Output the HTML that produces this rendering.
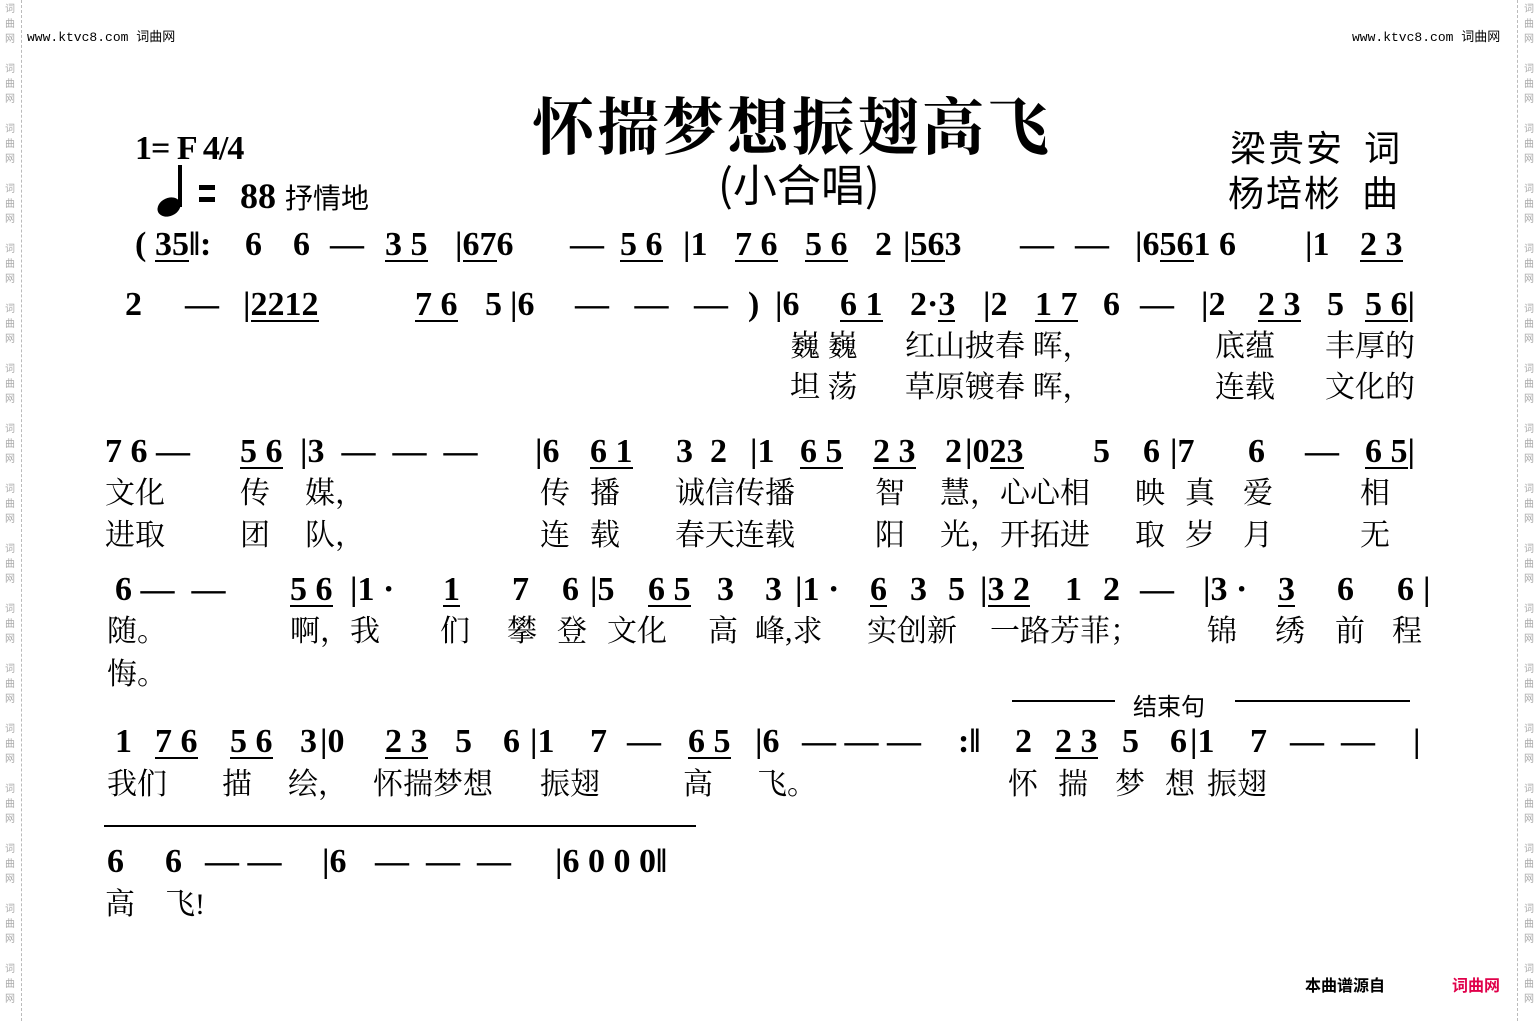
<!DOCTYPE html>
<html><head><meta charset="utf-8"><style>
body{margin:0;width:1539px;height:1021px;background:#fff;position:relative;overflow:hidden;font-family:"Liberation Serif","Noto Serif CJK SC",serif;color:#000}
.s{position:absolute;white-space:pre}
.n{position:absolute;white-space:pre;font:bold 34px "Liberation Serif",serif;line-height:40px}
.l{position:absolute;white-space:pre;font:30px "Liberation Serif","Noto Serif CJK SC",serif;line-height:36px}
.u{border-bottom:2.5px solid #000;line-height:30px;display:inline-block}
.side{position:absolute;width:20px;font:10px "Noto Sans CJK SC",sans-serif;color:#aaa;line-height:15px;text-align:center}
.vl{position:absolute;top:0;height:1021px;border-left:1px dashed #bbb}
</style></head><body>
<div class="vl" style="left:21px"></div><div class="vl" style="left:1517px"></div>
<div class="side" style="left:0;top:0">词<br>曲<br>网<br><br>词<br>曲<br>网<br><br>词<br>曲<br>网<br><br>词<br>曲<br>网<br><br>词<br>曲<br>网<br><br>词<br>曲<br>网<br><br>词<br>曲<br>网<br><br>词<br>曲<br>网<br><br>词<br>曲<br>网<br><br>词<br>曲<br>网<br><br>词<br>曲<br>网<br><br>词<br>曲<br>网<br><br>词<br>曲<br>网<br><br>词<br>曲<br>网<br><br>词<br>曲<br>网<br><br>词<br>曲<br>网<br><br>词<br>曲<br>网</div>
<div class="side" style="left:1519px;top:0">词<br>曲<br>网<br><br>词<br>曲<br>网<br><br>词<br>曲<br>网<br><br>词<br>曲<br>网<br><br>词<br>曲<br>网<br><br>词<br>曲<br>网<br><br>词<br>曲<br>网<br><br>词<br>曲<br>网<br><br>词<br>曲<br>网<br><br>词<br>曲<br>网<br><br>词<br>曲<br>网<br><br>词<br>曲<br>网<br><br>词<br>曲<br>网<br><br>词<br>曲<br>网<br><br>词<br>曲<br>网<br><br>词<br>曲<br>网<br><br>词<br>曲<br>网</div>
<div class="s" style="left:27px;top:26px;font:13px 'Liberation Mono','Noto Sans CJK SC',monospace">www.ktvc8.com 词曲网</div>
<div class="s" style="left:1352px;top:26px;font:13px 'Liberation Mono','Noto Sans CJK SC',monospace">www.ktvc8.com 词曲网</div>
<div class="s" style="left:532px;top:78px;font:bold 62px 'Noto Serif CJK SC',serif;letter-spacing:3px">怀揣梦想振翅高飞</div>
<div class="s" style="left:718px;top:150px;font:44px 'Noto Sans CJK SC',sans-serif">(小合唱)</div>
<div class="s" style="left:135px;top:130px;font:bold 34px 'Liberation Serif',serif;letter-spacing:-1px">1= F 4/4</div>
<svg class="s" style="left:155px;top:165px" width="60" height="55"><ellipse cx="14" cy="42" rx="12" ry="9" fill="#000" transform="rotate(-25 14 42)"/><rect x="23" y="0" width="4" height="42"/><rect x="44" y="20" width="38" height="5"/><rect x="44" y="32" width="38" height="5"/></svg>
<div class="s" style="left:240px;top:175px;font:bold 36px 'Liberation Serif',serif">88 <span style="font:28px 'Noto Sans CJK SC',sans-serif">抒情地</span></div>
<div class="s" style="left:1230px;top:120px;font:36px 'Noto Sans CJK SC',sans-serif;letter-spacing:2px">梁贵安  词</div>
<div class="s" style="left:1228px;top:165px;font:36px 'Noto Sans CJK SC',sans-serif;letter-spacing:2px">杨培彬  曲</div>

<!-- Row1 -->
<div class="n" style="left:135px;top:225px">(</div><div class="n" style="left:155px;top:225px"><span class="u">35</span>‖:</div>
<div class="n" style="left:245px;top:225px">6</div><div class="n" style="left:293px;top:225px">6</div><div class="n" style="left:330px;top:225px">—</div>
<div class="n" style="left:385px;top:225px"><span class="u">3 5</span></div><div class="n" style="left:455px;top:225px">|<span class="u">67</span>6</div>
<div class="n" style="left:570px;top:225px">—</div><div class="n" style="left:620px;top:225px"><span class="u">5 6</span></div>
<div class="n" style="left:683px;top:225px">|1</div><div class="n" style="left:735px;top:225px"><span class="u">7 6</span></div><div class="n" style="left:805px;top:225px"><span class="u">5 6</span></div><div class="n" style="left:875px;top:225px">2</div>
<div class="n" style="left:903px;top:225px">|<span class="u">56</span>3</div><div class="n" style="left:1020px;top:225px">—</div><div class="n" style="left:1075px;top:225px">—</div>
<div class="n" style="left:1135px;top:225px">|6<span class="u">56</span>1 6</div><div class="n" style="left:1305px;top:225px">|1</div><div class="n" style="left:1360px;top:225px"><span class="u">2 3</span></div>

<!-- Row2 -->
<div class="n" style="left:125px;top:285px">2</div><div class="n" style="left:185px;top:285px">—</div>
<div class="n" style="left:243px;top:285px">|<span class="u">22</span><span class="u">12</span></div>
<div class="n" style="left:415px;top:285px"><span class="u">7 6</span></div><div class="n" style="left:485px;top:285px">5</div><div class="n" style="left:510px;top:285px">|6</div>
<div class="n" style="left:575px;top:285px">—   —   —</div><div class="n" style="left:748px;top:285px">)</div>
<div class="n" style="left:775px;top:285px">|6</div><div class="n" style="left:840px;top:285px"><span class="u">6 1</span></div><div class="n" style="left:910px;top:285px">2·<span class="u">3</span></div>
<div class="n" style="left:983px;top:285px">|2</div><div class="n" style="left:1035px;top:285px"><span class="u">1 7</span></div><div class="n" style="left:1103px;top:285px">6</div><div class="n" style="left:1140px;top:285px">—</div>
<div class="n" style="left:1201px;top:285px">|2</div><div class="n" style="left:1258px;top:285px"><span class="u">2 3</span></div><div class="n" style="left:1327px;top:285px">5</div><div class="n" style="left:1365px;top:285px"><span class="u">5 6</span>|</div>
<div class="l" style="left:790px;top:329px">巍 巍</div><div class="l" style="left:905px;top:329px">红山披春 晖，</div><div class="l" style="left:1215px;top:329px">底蕴</div><div class="l" style="left:1325px;top:329px">丰厚的</div>
<div class="l" style="left:790px;top:370px">坦 荡</div><div class="l" style="left:905px;top:370px">草原镀春 晖，</div><div class="l" style="left:1215px;top:370px">连载</div><div class="l" style="left:1325px;top:370px">文化的</div>

<!-- Row3 -->
<div class="n" style="left:105px;top:432px">7 6 —</div><div class="n" style="left:240px;top:432px"><span class="u">5 6</span></div><div class="n" style="left:300px;top:432px">|3  —  —  —</div>
<div class="n" style="left:535px;top:432px">|6</div><div class="n" style="left:590px;top:432px"><span class="u">6 1</span></div><div class="n" style="left:676px;top:432px">3  2</div>
<div class="n" style="left:750px;top:432px">|1</div><div class="n" style="left:800px;top:432px"><span class="u">6 5</span></div><div class="n" style="left:873px;top:432px"><span class="u">2 3</span></div><div class="n" style="left:945px;top:432px">2</div>
<div class="n" style="left:965px;top:432px">|0<span class="u">23</span></div><div class="n" style="left:1093px;top:432px">5</div><div class="n" style="left:1143px;top:432px">6</div>
<div class="n" style="left:1170px;top:432px">|7</div><div class="n" style="left:1248px;top:432px">6</div><div class="n" style="left:1305px;top:432px">—</div><div class="n" style="left:1365px;top:432px"><span class="u">6 5</span>|</div>
<div class="l" style="left:105px;top:476px">文化</div><div class="l" style="left:240px;top:476px">传</div><div class="l" style="left:305px;top:476px">媒，</div><div class="l" style="left:540px;top:476px">传</div><div class="l" style="left:590px;top:476px">播</div><div class="l" style="left:675px;top:476px">诚信传播</div><div class="l" style="left:875px;top:476px">智</div><div class="l" style="left:940px;top:476px">慧，心心相</div><div class="l" style="left:1135px;top:476px">映</div><div class="l" style="left:1185px;top:476px">真</div><div class="l" style="left:1243px;top:476px">爱</div><div class="l" style="left:1360px;top:476px">相</div>
<div class="l" style="left:105px;top:518px">进取</div><div class="l" style="left:240px;top:518px">团</div><div class="l" style="left:305px;top:518px">队，</div><div class="l" style="left:540px;top:518px">连</div><div class="l" style="left:590px;top:518px">载</div><div class="l" style="left:675px;top:518px">春天连载</div><div class="l" style="left:875px;top:518px">阳</div><div class="l" style="left:940px;top:518px">光，开拓进</div><div class="l" style="left:1135px;top:518px">取</div><div class="l" style="left:1185px;top:518px">岁</div><div class="l" style="left:1243px;top:518px">月</div><div class="l" style="left:1360px;top:518px">无</div>

<!-- Row4 -->
<div class="n" style="left:115px;top:570px">6 —  —</div><div class="n" style="left:290px;top:570px"><span class="u">5 6</span></div><div class="n" style="left:350px;top:570px">|1 ·</div><div class="n" style="left:443px;top:570px"><span class="u">1</span></div><div class="n" style="left:512px;top:570px">7</div><div class="n" style="left:562px;top:570px">6</div>
<div class="n" style="left:590px;top:570px">|5</div><div class="n" style="left:648px;top:570px"><span class="u">6 5</span></div><div class="n" style="left:717px;top:570px">3</div><div class="n" style="left:765px;top:570px">3</div>
<div class="n" style="left:795px;top:570px">|1 ·</div><div class="n" style="left:870px;top:570px"><span class="u">6</span></div><div class="n" style="left:910px;top:570px">3</div><div class="n" style="left:948px;top:570px">5</div>
<div class="n" style="left:980px;top:570px">|<span class="u">3 2</span></div><div class="n" style="left:1065px;top:570px">1</div><div class="n" style="left:1103px;top:570px">2</div><div class="n" style="left:1140px;top:570px">—</div>
<div class="n" style="left:1203px;top:570px">|3 ·</div><div class="n" style="left:1278px;top:570px"><span class="u">3</span></div><div class="n" style="left:1337px;top:570px">6</div><div class="n" style="left:1397px;top:570px">6</div><div class="n" style="left:1423px;top:570px">|</div>
<div class="l" style="left:107px;top:614px">随。</div><div class="l" style="left:290px;top:614px">啊，我</div><div class="l" style="left:440px;top:614px">们</div><div class="l" style="left:507px;top:614px">攀</div><div class="l" style="left:557px;top:614px">登</div><div class="l" style="left:607px;top:614px">文化</div><div class="l" style="left:708px;top:614px">高</div><div class="l" style="left:755px;top:614px">峰,求</div><div class="l" style="left:867px;top:614px">实创新</div><div class="l" style="left:990px;top:614px">一路芳菲；</div><div class="l" style="left:1207px;top:614px">锦</div><div class="l" style="left:1275px;top:614px">绣</div><div class="l" style="left:1335px;top:614px">前</div><div class="l" style="left:1392px;top:614px">程</div>
<div class="l" style="left:107px;top:657px">悔。</div>

<!-- Row5 -->
<div class="s" style="left:1012px;top:700px;width:103px;border-top:2px solid #000"></div><div class="s" style="left:1133px;top:687px;font:24px 'Noto Sans CJK SC',sans-serif">结束句</div><div class="s" style="left:1235px;top:700px;width:175px;border-top:2px solid #000"></div>
<div class="n" style="left:115px;top:722px">1</div><div class="n" style="left:155px;top:722px"><span class="u">7 6</span></div><div class="n" style="left:230px;top:722px"><span class="u">5 6</span></div><div class="n" style="left:300px;top:722px">3</div>
<div class="n" style="left:320px;top:722px">|0</div><div class="n" style="left:385px;top:722px"><span class="u">2 3</span></div><div class="n" style="left:455px;top:722px">5</div><div class="n" style="left:503px;top:722px">6</div>
<div class="n" style="left:530px;top:722px">|1</div><div class="n" style="left:590px;top:722px">7</div><div class="n" style="left:627px;top:722px">—</div><div class="n" style="left:688px;top:722px"><span class="u">6 5</span></div>
<div class="n" style="left:755px;top:722px">|6</div><div class="n" style="left:802px;top:722px">— — —</div><div class="n" style="left:958px;top:722px">:‖</div>
<div class="n" style="left:1015px;top:722px">2</div><div class="n" style="left:1055px;top:722px"><span class="u">2 3</span></div><div class="n" style="left:1122px;top:722px">5</div><div class="n" style="left:1170px;top:722px">6</div>
<div class="n" style="left:1190px;top:722px">|1</div><div class="n" style="left:1250px;top:722px">7</div><div class="n" style="left:1290px;top:722px">—  —</div><div class="n" style="left:1413px;top:722px">|</div>
<div class="l" style="left:107px;top:767px">我们</div><div class="l" style="left:222px;top:767px">描</div><div class="l" style="left:288px;top:767px">绘，</div><div class="l" style="left:373px;top:767px">怀揣梦想</div><div class="l" style="left:540px;top:767px">振翅</div><div class="l" style="left:683px;top:767px">高</div><div class="l" style="left:757px;top:767px">飞。</div><div class="l" style="left:1008px;top:767px">怀</div><div class="l" style="left:1058px;top:767px">揣</div><div class="l" style="left:1115px;top:767px">梦</div><div class="l" style="left:1165px;top:767px">想</div><div class="l" style="left:1207px;top:767px">振翅</div>

<!-- Row6 -->
<div class="s" style="left:104px;top:825px;width:592px;border-top:2px solid #000"></div>
<div class="n" style="left:107px;top:842px">6</div><div class="n" style="left:165px;top:842px">6</div><div class="n" style="left:205px;top:842px">— —</div>
<div class="n" style="left:322px;top:842px">|6</div><div class="n" style="left:375px;top:842px">—  —  —</div>
<div class="n" style="left:555px;top:842px">|6 0 0 0‖</div>
<div class="l" style="left:105px;top:887px">高</div><div class="l" style="left:165px;top:887px">飞!</div>

<div class="s" style="left:1305px;top:972px;font:bold 16px 'Noto Sans CJK SC',sans-serif">本曲谱源自</div>
<div class="s" style="left:1452px;top:972px;font:bold 16px 'Noto Sans CJK SC',sans-serif;color:#e0004a">词曲网</div>
</body></html>
